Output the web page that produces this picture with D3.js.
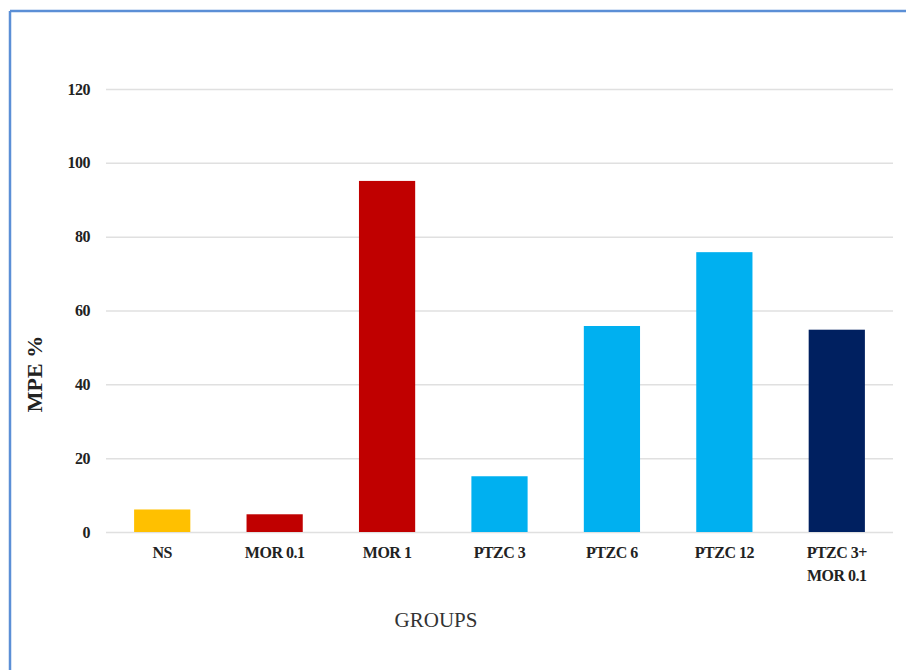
<!DOCTYPE html>
<html><head><meta charset="utf-8">
<script src="https://cdn.jsdelivr.net/npm/d3@7"></script>
<style>body{margin:0;background:#fff}svg{display:block}</style>
</head><body>
<script>
const categories = ["NS","MOR 0.1","MOR 1","PTZC 3","PTZC 6","PTZC 12","PTZC 3+\nMOR 0.1"];
const values = [6.1, 4.8, 95.1, 15.1, 55.8, 75.8, 54.8];
const colors = ["#ffc000","#c00000","#c00000","#00b0f0","#00b0f0","#00b0f0","#002060"];
const yTicks = [0,20,40,60,80,100,120];

const W=906,H=670;
const svg=d3.select("body").append("svg").attr("width",W).attr("height",H);
svg.append("rect").attr("x",0).attr("y",0).attr("width",W).attr("height",H).attr("fill","#fff");
// frame
svg.append("line").attr("x1",10).attr("x2",10).attr("y1",11).attr("y2",H).attr("stroke","#5b8fd6").attr("stroke-width",2.5);
svg.append("line").attr("x1",10).attr("x2",W).attr("y1",11).attr("y2",11).attr("stroke","#5b8fd6").attr("stroke-width",2.5);

const x0=106,x1=893,y0=532,y1=89;
const x=d3.scaleBand().domain(categories).range([x0,x1]).paddingInner(0.5).paddingOuter(0.25);
const y=d3.scaleLinear().domain([0,120]).range([y0,y1]);
const font="Liberation Serif, Times New Roman, serif";

const gy=svg.append("g").attr("transform",`translate(${x0},0)`)
  .call(d3.axisLeft(y).tickValues(yTicks).tickSize(-(x1-x0)).tickPadding(16));
gy.attr("font-family",null).attr("font-size",null);
gy.select(".domain").remove();
gy.selectAll(".tick line").attr("stroke","#e0e0e0").attr("stroke-width",1.5);
gy.selectAll(".tick text").style("font-family",font).style("font-weight","bold").style("font-size","16px")
  .style("letter-spacing","-0.5px").attr("fill","#222");

svg.selectAll("rect.bar").data(values).join("rect").attr("class","bar")
  .attr("x",(d,i)=>x(categories[i])).attr("width",x.bandwidth())
  .attr("y",d=>y(d)).attr("height",d=>y0-y(d)).attr("fill",(d,i)=>colors[i]);

const gx=svg.append("g").attr("transform",`translate(0,${y0})`)
  .call(d3.axisBottom(x).tickSize(0).tickPadding(0).tickFormat(""));
gx.attr("font-family",null).attr("font-size",null);
gx.select(".domain").remove();
gx.selectAll(".tick").each(function(d){
  const t=d3.select(this).append("text").attr("text-anchor","middle")
    .style("font-family",font).style("font-weight","bold").style("font-size","16px")
    .style("letter-spacing","-0.5px").attr("fill","#222");
  d.split("\n").forEach((s,k)=>t.append("tspan").attr("x",0).attr("y",26+k*23).text(s));
});

svg.append("text").attr("transform","translate(42,374) rotate(-90)").attr("text-anchor","middle")
  .style("font-family",font).style("font-weight","bold").style("font-size","22px").attr("fill","#222").text("MPE %");
svg.append("text").attr("x",436).attr("y",627).attr("text-anchor","middle")
  .style("font-family",font).style("font-size","21px").attr("fill","#333").text("GROUPS");
</script>
</body></html>
